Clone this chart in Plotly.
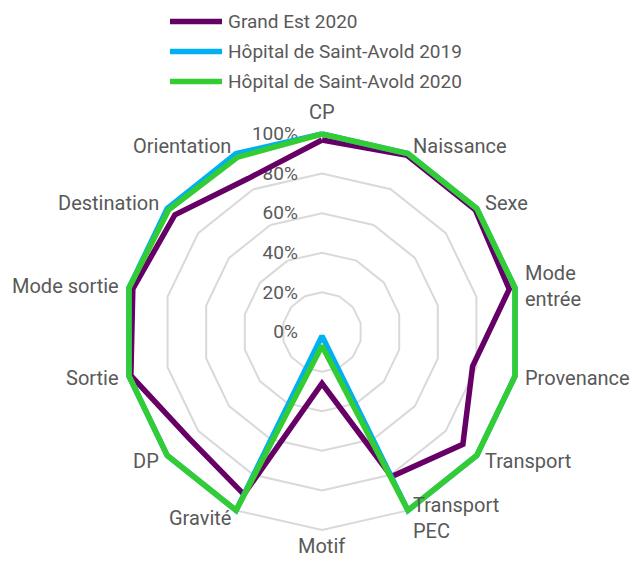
import math
import plotly.graph_objects as go

categories = ["CP", "Naissance", "Sexe", "Mode<br>entrée", "Provenance", "Transport",
              "Transport<br>PEC", "Motif", "Gravité", "DP", "Sortie", "Mode sortie",
              "Destination", "Orientation"]

grand_est_2020 = [97, 99, 99, 97, 78, 91, 81, 26, 91, 86, 99, 98, 95, 86]
st_avold_2019 = [100, 100, 100, 100, 100, 100, 100, 2, 100, 100, 100, 100, 100, 100]
st_avold_2020 = [100, 100, 100, 100, 100, 100, 100, 7, 100, 100, 100, 100, 99, 98]

series_names = ["Grand Est 2020", "Hôpital de Saint-Avold 2019", "Hôpital de Saint-Avold 2020"]
series_values = [grand_est_2020, st_avold_2019, st_avold_2020]
series_colors = ["#660066", "#00b0f0", "#33cc33"]

radial_ticks = [0, 20, 40, 60, 80, 100]
radial_labels = [f"{v}%" for v in radial_ticks]
R_MAX = 103  # a little headroom so the 100% strokes are not clipped

FONT = "Roboto"
GREY = "#595959"
W, H = 634, 561
cx, cy, R100 = 322, 332, 198          # centre and 100% radius, in pixels
R = R100 * R_MAX / 100
LABEL_R = R100 * 1.045                # where side category labels sit
LABEL_R_TOP = R100 + 22               # top label (text centre)
LABEL_R_BOTTOM = R100 + 16            # bottom label (text centre)

fig = go.Figure()
for name, vals, color in zip(series_names, series_values, series_colors):
    fig.add_trace(go.Scatterpolar(
        r=vals + vals[:1],
        theta=categories + categories[:1],
        mode="lines",
        name=name,
        cliponaxis=False,
        showlegend=False,
        line=dict(color=color, width=5.5),
    ))

annotations, shapes = [], []

# Category labels placed just outside each spoke, anchored away from the centre
n = len(categories)
for i, cat in enumerate(categories):
    ang = 2 * math.pi * i / n          # clockwise from the top
    s, c = math.sin(ang), math.cos(ang)
    if abs(s) < 1e-6:
        xa = "center"
        px = cx
        py = cy - LABEL_R_TOP if c > 0 else cy + LABEL_R_BOTTOM
    else:
        xa = "left" if s > 0 else "right"
        px = cx + LABEL_R * s
        py = cy - LABEL_R * c
    annotations.append(dict(
        text=cat, xref="paper", yref="paper",
        x=px / W, y=1 - py / H, xanchor=xa, yanchor="middle",
        align="left" if xa == "left" else ("right" if xa == "right" else "center"),
        showarrow=False, borderpad=0,
        font=dict(family=FONT, size=20, color=GREY),
    ))

# Legend drawn as line swatches + labels at the top of the figure
for i, (name, color) in enumerate(zip(series_names, series_colors)):
    y = 21.5 + 30 * i
    shapes.append(dict(
        type="line", xref="paper", yref="paper",
        x0=170 / W, x1=222 / W, y0=1 - y / H, y1=1 - y / H,
        line=dict(color=color, width=5.5), layer="above",
    ))
    annotations.append(dict(
        text=name, xref="paper", yref="paper",
        x=226 / W, y=1 - y / H, xanchor="left", yanchor="middle",
        showarrow=False, font=dict(family=FONT, size=19, color=GREY),
    ))

fig.update_layout(
    width=W, height=H,
    margin=dict(l=0, r=0, t=0, b=0),
    paper_bgcolor="white",
    plot_bgcolor="white",
    font=dict(family=FONT, size=19, color=GREY),
    showlegend=False,
    shapes=shapes,
    annotations=annotations,
    polar=dict(
        domain=dict(x=[(cx - R) / W, (cx + R) / W],
                    y=[(H - cy - R) / H, (H - cy + R) / H]),
        bgcolor="white",
        gridshape="linear",
        radialaxis=dict(
            range=[0, R_MAX],
            tickvals=radial_ticks,
            ticktext=radial_labels,
            angle=90,
            tickangle=90,
            side="counterclockwise",
            showline=False,
            ticks="outside",
            ticklen=17,
            tickcolor="rgba(0,0,0,0)",
            showgrid=True,
            gridcolor="#d9d9d9",
            gridwidth=1.5,
            layer="below traces",
            tickfont=dict(family=FONT, size=19, color=GREY),
        ),
        angularaxis=dict(
            direction="clockwise",
            rotation=90,
            showgrid=False,
            showline=False,
            showticklabels=False,
            ticks="",
            layer="below traces",
        ),
    ),
)

fig.write_html("out.html")
